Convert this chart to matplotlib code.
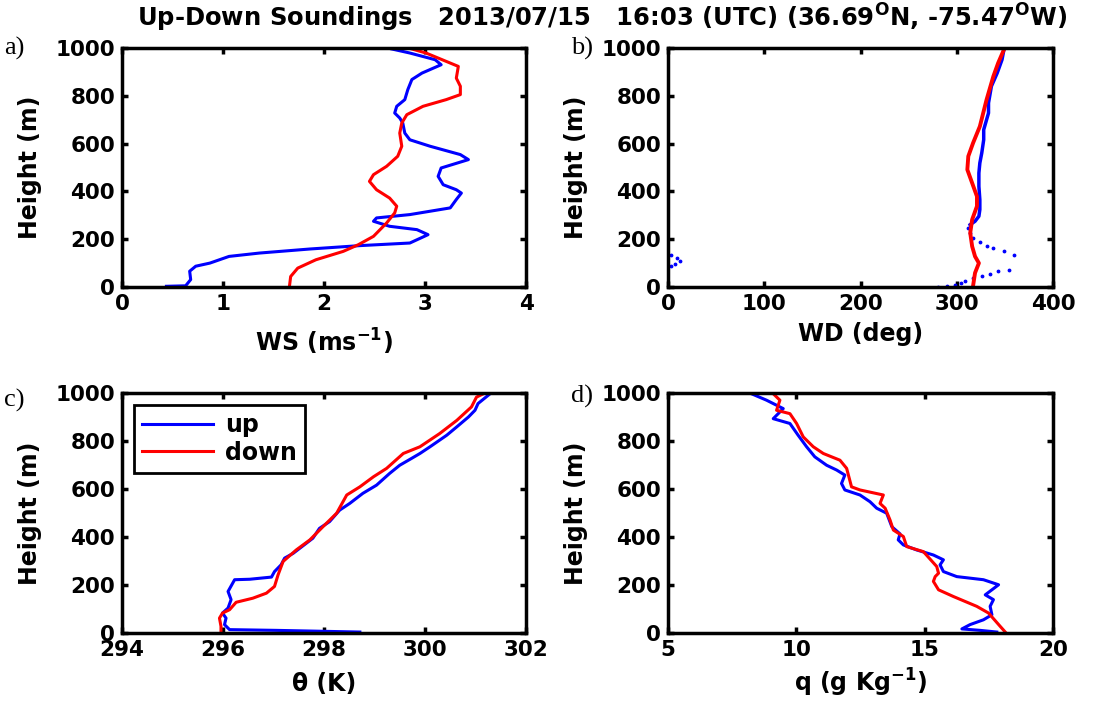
import matplotlib
matplotlib.use("Agg")
import matplotlib.pyplot as plt

# wind speed (m/s) vs height (m)
ws_up = [0.44, 0.63, 0.68, 0.67, 0.73, 0.87, 1.06, 1.36, 1.86, 2.35, 2.85, 3.03, 2.92, 2.65, 2.49,
         2.52, 2.85, 3.25, 3.31, 3.36, 3.31, 3.18, 3.13, 3.16, 3.43, 3.35, 3.05, 2.85, 2.80, 2.78,
         2.75, 2.70, 2.72, 2.80, 2.83, 2.87, 2.97, 3.16, 3.10, 2.85, 2.67]
h_ws_up = [3, 5, 31, 66, 87, 100, 128, 142, 159, 173, 184, 219, 240, 254, 275,
           289, 303, 331, 366, 393, 407, 428, 463, 498, 533, 554, 589, 616, 644, 686,
           707, 728, 756, 784, 826, 868, 895, 930, 951, 979, 996]
ws_down = [1.66, 1.67, 1.74, 1.92, 2.19, 2.34, 2.49, 2.62, 2.70, 2.72, 2.65, 2.52, 2.45, 2.49,
           2.62, 2.73, 2.77, 2.75, 2.77, 2.82, 2.98, 3.21, 3.35, 3.35, 3.31, 3.33, 3.21, 3.01, 2.87]
h_ws_down = [10, 44, 79, 114, 149, 177, 212, 268, 310, 338, 372, 407, 442, 470,
             505, 547, 589, 644, 686, 721, 756, 784, 805, 840, 874, 923, 944, 979, 996]

# wind direction (deg); lower part of the up sounding is sparse dots
wd_up_low = [281, 290, 298, 304, 309, 317, 326, 335, 343, 354, 3.5, 7, 12, 9, 3.5,
             359, 349, 338, 331, 324, 317, 314, 312, 314]
h_wd_up_low = [0, 3, 10, 17, 26, 38, 47, 56, 66, 73, 86, 96, 107, 121, 135,
               135, 149, 163, 173, 187, 205, 226, 247, 261]
wd_up = [314, 319, 323, 324, 324, 323, 323, 324, 326, 328, 328, 333, 333, 336, 342, 347, 349]
h_wd_up = [261, 275, 296, 324, 365, 421, 477, 519, 561, 616, 658, 728, 770, 840, 895, 951, 993]
wd_down = [317, 319, 323, 319, 316, 314, 316, 321, 321, 316, 311, 312, 317, 324, 331, 338, 343, 349]
h_wd_down = [6, 59, 100, 128, 170, 226, 282, 338, 379, 435, 491, 547, 603, 672, 784, 881, 937, 993]

# potential temperature (K)
th_up = [298.71, 297.05, 296.13, 296.03, 296.06, 295.99, 296.10, 296.16, 296.10, 296.23, 296.53,
         296.96, 297.02, 297.15, 297.22, 297.39, 297.65, 297.78, 297.91, 298.11, 298.31, 298.51,
         298.77, 299.04, 299.30, 299.50, 299.73, 299.90, 300.10, 300.43, 300.63, 300.86, 300.99,
         301.05, 301.29]
h_th_up = [4, 11, 14, 35, 62, 83, 104, 139, 173, 222, 224,
           233, 256, 284, 312, 332, 374, 395, 436, 464, 512, 540,
           582, 616, 665, 699, 727, 748, 776, 824, 859, 900, 928,
           956, 997]
th_down = [295.96, 295.96, 295.93, 295.99, 296.13, 296.26, 296.59, 296.86, 297.02, 297.09, 297.19,
           297.45, 297.72, 297.98, 298.25, 298.45, 298.71, 298.98, 299.24, 299.57, 299.90, 300.29,
           300.63, 300.92, 301.02, 301.16]
h_th_down = [4, 28, 62, 83, 97, 128, 145, 166, 194, 242, 298,
             346, 388, 443, 499, 575, 609, 651, 686, 748, 776, 831,
             886, 942, 983, 997]

# specific humidity (g/kg)
q_up = [17.81, 17.16, 16.45, 16.77, 17.29, 17.62, 17.55, 17.68, 17.36, 17.88, 17.29, 16.25, 15.73,
        15.60, 15.73, 15.34, 14.69, 14.17, 13.97, 14.04, 13.72, 13.52, 13.13, 12.87, 12.48, 11.89,
        11.76, 11.89, 11.57, 11.18, 10.72, 10.40, 10.07, 9.75, 9.10, 9.49, 8.84, 8.25]
h_q_up = [4, 11, 17, 35, 55, 76, 111, 139, 159, 201, 222, 235, 256,
          284, 305, 325, 346, 367, 388, 413, 443, 499, 520, 547, 575, 596,
          623, 658, 679, 699, 734, 776, 824, 873, 893, 935, 970, 997]
q_down = [18.14, 17.94, 17.49, 17.03, 16.12, 15.54, 15.34, 15.41, 15.54, 15.47, 14.95, 14.30, 14.17,
          13.78, 13.65, 13.46, 13.26, 13.39, 12.48, 12.15, 11.96, 11.70, 11.05, 10.66, 10.27, 10.01,
          9.75, 9.23, 9.36, 9.10]
h_q_down = [4, 28, 83, 111, 152, 180, 215, 235, 249, 277, 339, 360, 402,
            429, 471, 520, 540, 575, 596, 609, 686, 720, 748, 776, 817, 873,
            914, 928, 970, 997]

plt.rcParams['font.family'] = 'DejaVu Sans'
plt.rcParams['font.weight'] = 'bold'
plt.rcParams['mathtext.default'] = 'bf'

fig = plt.figure(figsize=(11.07, 7.02), dpi=100)
W, H = 1107.0, 702.0
TICK = 15.5
LAB = 17

def make_ax(x0, x1, y0, y1):
    ax = fig.add_axes([x0 / W, 1 - y1 / H, (x1 - x0) / W, (y1 - y0) / H])
    for s in ax.spines.values():
        s.set_linewidth(2.5)
    ax.tick_params(direction='in', top=True, right=True, length=4, width=2.5,
                   labelsize=TICK, pad=5)
    ax.set_ylim(0, 1000)
    ax.set_yticks(range(0, 1001, 200))
    ax.set_ylabel('Height (m)', fontsize=LAB, fontweight='bold', labelpad=10)
    return ax

lw = 2.2
ax1 = make_ax(122, 526, 48, 287)
ax1.plot(ws_up, h_ws_up, color='b', lw=lw)
ax1.plot(ws_down, h_ws_down, color='r', lw=lw)
ax1.set_xlim(0, 4)
ax1.set_xticks([0, 1, 2, 3, 4])
ax1.set_xlabel('WS (ms$^{-1}$)', fontsize=LAB, fontweight='bold', labelpad=9)

ax2 = make_ax(668, 1053, 48, 287)
ax2.plot(wd_up_low, h_wd_up_low, '.', color='b', ms=3.5)
ax2.plot(wd_up, h_wd_up, color='b', lw=2.5)
ax2.plot(wd_down, h_wd_down, color='r', lw=2.8)
ax2.set_xlim(0, 400)
ax2.set_xticks([0, 100, 200, 300, 400])
ax2.set_xlabel('WD (deg)', fontsize=LAB, fontweight='bold', labelpad=6)

ax3 = make_ax(122, 526, 393, 633)
ax3.plot(th_up, h_th_up, color='b', lw=lw, label='up')
ax3.plot(th_down, h_th_down, color='r', lw=lw, label='down')
ax3.set_xlim(294, 302)
ax3.set_xticks([294, 296, 298, 300, 302])
ax3.set_xlabel('θ (K)', fontsize=LAB, fontweight='bold', labelpad=9)
leg = ax3.legend(loc='upper left', handlelength=3.0, handletextpad=0.5, fancybox=False,
                 framealpha=1, edgecolor='k', borderaxespad=0.5, labelspacing=0.15,
                 borderpad=0.35, prop={'weight': 'bold', 'size': 17})
leg.get_frame().set_linewidth(2.0)

ax4 = make_ax(668, 1053, 393, 633)
ax4.plot(q_up, h_q_up, color='b', lw=lw)
ax4.plot(q_down, h_q_down, color='r', lw=lw)
ax4.set_xlim(5, 20)
ax4.set_xticks([5, 10, 15, 20])
ax4.set_xlabel('q (g Kg$^{-1}$)', fontsize=LAB, fontweight='bold', labelpad=5)

fig.text(602 / W, 1 - 18 / H,
         'Up-Down Soundings   2013/07/15   16:03 (UTC) (36.69$^{O}$N, -75.47$^{O}$W)',
         ha='center', va='center', fontsize=17.5, fontweight='bold')

for lab, x, y in [('a)', 4, 48), ('b)', 571, 48), ('c)', 4, 400), ('d)', 571, 396)]:
    fig.text(x / W, 1 - y / H, lab, family='Liberation Serif', fontweight='normal',
             fontsize=19, ha='left', va='center')

fig.savefig('out.png', dpi=100)
